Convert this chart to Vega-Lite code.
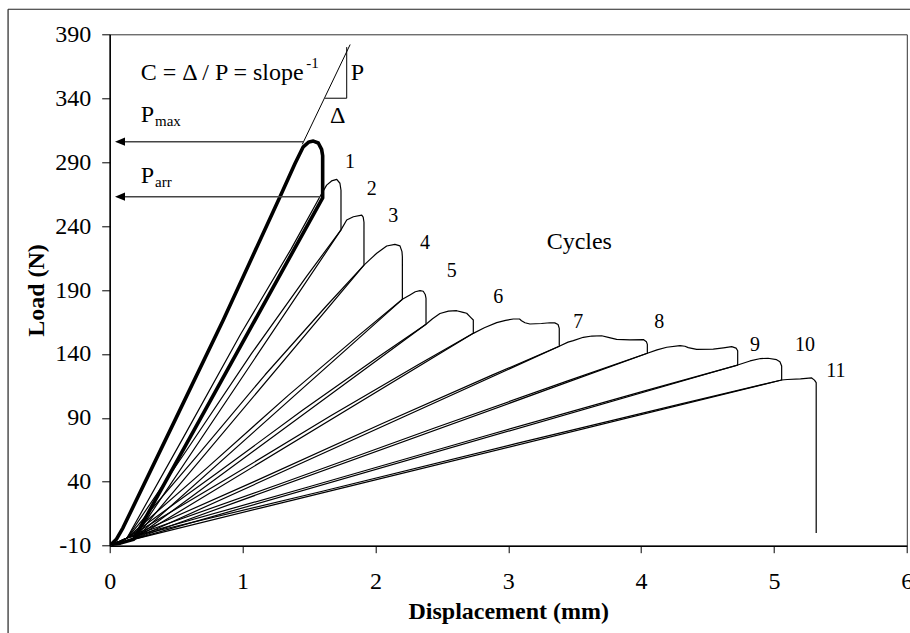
{
  "$schema": "https://vega.github.io/schema/vega-lite/v6.json",
  "width": 797.1,
  "height": 511.4,
  "autosize": {"type": "none"},
  "padding": {"left": 109.7, "top": 34.3, "right": 3.2, "bottom": 87.3},
  "background": "white",
  "config": {
    "view": {"stroke": "#333333", "strokeWidth": 1},
    "font": "Liberation Serif",
    "text": {"font": "Liberation Serif", "color": "black"}
  },
  "datasets": {
    "frame": [
      {"disp": -0.765, "load": 409.6, "disp2": -0.765, "load2": -79},
      {"disp": -0.765, "load": 409.6, "disp2": 6.03, "load2": 409.6}
    ],
    "bold": [
      {"disp": 0.01, "load": -9, "k": 0}, {"disp": 0.05, "load": -5, "k": 1}, {"disp": 0.1, "load": 4, "k": 2},
      {"disp": 0.5, "load": 90, "k": 3}, {"disp": 0.855, "load": 166.5, "k": 4}, {"disp": 1.282, "load": 263, "k": 5},
      {"disp": 1.395, "load": 289, "k": 6}, {"disp": 1.457, "load": 302, "k": 7}, {"disp": 1.5, "load": 305.8, "k": 8},
      {"disp": 1.533, "load": 306.5, "k": 9}, {"disp": 1.57, "load": 305, "k": 10}, {"disp": 1.595, "load": 300, "k": 11},
      {"disp": 1.603, "load": 295, "k": 12}, {"disp": 1.603, "load": 262, "k": 13}, {"disp": 0.18, "load": -5, "k": 14},
      {"disp": 0.08, "load": -8, "k": 15}, {"disp": 0.01, "load": -9, "k": 16}
    ],
    "cycles": [
      {"cycle": 1, "k": 0, "disp": 0.01, "load": -9}, {"cycle": 1, "k": 1, "disp": 0.07, "load": -7}, {"cycle": 1, "k": 2, "disp": 0.13, "load": -4},
      {"cycle": 1, "k": 3, "disp": 0.557, "load": 75.1}, {"cycle": 1, "k": 4, "disp": 0.984, "load": 155.2}, {"cycle": 1, "k": 5, "disp": 1.365, "load": 222},
      {"cycle": 1, "k": 6, "disp": 1.58, "load": 262.5}, {"cycle": 1, "k": 7, "disp": 1.633, "load": 272}, {"cycle": 1, "k": 8, "disp": 1.67, "load": 275.3},
      {"cycle": 1, "k": 9, "disp": 1.709, "load": 276.5}, {"cycle": 1, "k": 10, "disp": 1.733, "load": 273.5}, {"cycle": 1, "k": 11, "disp": 1.741, "load": 268},
      {"cycle": 1, "k": 12, "disp": 1.741, "load": 237}, {"cycle": 1, "k": 13, "disp": 0.18, "load": -5}, {"cycle": 1, "k": 14, "disp": 0.08, "load": -8},
      {"cycle": 1, "k": 15, "disp": 0.01, "load": -9},

      {"cycle": 2, "k": 0, "disp": 0.01, "load": -9}, {"cycle": 2, "k": 1, "disp": 0.07, "load": -7}, {"cycle": 2, "k": 2, "disp": 0.13, "load": -4},
      {"cycle": 2, "k": 3, "disp": 0.598, "load": 67.6}, {"cycle": 2, "k": 4, "disp": 1.067, "load": 140.2}, {"cycle": 2, "k": 5, "disp": 1.482, "load": 200.7},
      {"cycle": 2, "k": 6, "disp": 1.741, "load": 237}, {"cycle": 2, "k": 7, "disp": 1.784, "load": 244.7}, {"cycle": 2, "k": 8, "disp": 1.834, "load": 247.3},
      {"cycle": 2, "k": 9, "disp": 1.897, "load": 248.6}, {"cycle": 2, "k": 10, "disp": 1.908, "load": 247}, {"cycle": 2, "k": 11, "disp": 1.914, "load": 243},
      {"cycle": 2, "k": 12, "disp": 1.914, "load": 209.5}, {"cycle": 2, "k": 13, "disp": 0.18, "load": -5}, {"cycle": 2, "k": 14, "disp": 0.08, "load": -8},
      {"cycle": 2, "k": 15, "disp": 0.01, "load": -9},

      {"cycle": 3, "k": 0, "disp": 0.01, "load": -9}, {"cycle": 3, "k": 1, "disp": 0.07, "load": -7}, {"cycle": 3, "k": 2, "disp": 0.13, "load": -4},
      {"cycle": 3, "k": 3, "disp": 0.65, "load": 59.35}, {"cycle": 3, "k": 4, "disp": 1.17, "load": 123.7}, {"cycle": 3, "k": 5, "disp": 1.629, "load": 177.3},
      {"cycle": 3, "k": 6, "disp": 1.914, "load": 209.5}, {"cycle": 3, "k": 7, "disp": 1.96, "load": 214}, {"cycle": 3, "k": 8, "disp": 2.01, "load": 218.7},
      {"cycle": 3, "k": 9, "disp": 2.085, "load": 224.4}, {"cycle": 3, "k": 10, "disp": 2.147, "load": 225.7}, {"cycle": 3, "k": 11, "disp": 2.185, "load": 224.5},
      {"cycle": 3, "k": 12, "disp": 2.2, "load": 220}, {"cycle": 3, "k": 13, "disp": 2.203, "load": 216}, {"cycle": 3, "k": 14, "disp": 2.203, "load": 182.7},
      {"cycle": 3, "k": 15, "disp": 0.18, "load": -5}, {"cycle": 3, "k": 16, "disp": 0.08, "load": -8}, {"cycle": 3, "k": 17, "disp": 0.01, "load": -9},

      {"cycle": 4, "k": 0, "disp": 0.01, "load": -9}, {"cycle": 4, "k": 1, "disp": 0.07, "load": -7}, {"cycle": 4, "k": 2, "disp": 0.13, "load": -4},
      {"cycle": 4, "k": 3, "disp": 0.737, "load": 51.3}, {"cycle": 4, "k": 4, "disp": 1.344, "load": 107.6}, {"cycle": 4, "k": 5, "disp": 1.875, "load": 154.5},
      {"cycle": 4, "k": 6, "disp": 2.203, "load": 182.7}, {"cycle": 4, "k": 7, "disp": 2.26, "load": 186.1}, {"cycle": 4, "k": 8, "disp": 2.3, "load": 188.6},
      {"cycle": 4, "k": 9, "disp": 2.336, "load": 189.5}, {"cycle": 4, "k": 10, "disp": 2.36, "load": 189}, {"cycle": 4, "k": 11, "disp": 2.375, "load": 186.5},
      {"cycle": 4, "k": 12, "disp": 2.381, "load": 183.5}, {"cycle": 4, "k": 13, "disp": 2.381, "load": 163.2}, {"cycle": 4, "k": 14, "disp": 0.18, "load": -5},
      {"cycle": 4, "k": 15, "disp": 0.08, "load": -8}, {"cycle": 4, "k": 16, "disp": 0.01, "load": -9},

      {"cycle": 5, "k": 0, "disp": 0.01, "load": -9}, {"cycle": 5, "k": 1, "disp": 0.07, "load": -7}, {"cycle": 5, "k": 2, "disp": 0.13, "load": -4},
      {"cycle": 5, "k": 3, "disp": 0.79, "load": 45.5}, {"cycle": 5, "k": 4, "disp": 1.451, "load": 95.9}, {"cycle": 5, "k": 5, "disp": 2.026, "load": 138},
      {"cycle": 5, "k": 6, "disp": 2.381, "load": 163.2}, {"cycle": 5, "k": 7, "disp": 2.43, "load": 167.5}, {"cycle": 5, "k": 8, "disp": 2.486, "load": 171.6},
      {"cycle": 5, "k": 9, "disp": 2.55, "load": 173.5}, {"cycle": 5, "k": 10, "disp": 2.612, "load": 173.8}, {"cycle": 5, "k": 11, "disp": 2.66, "load": 172.5},
      {"cycle": 5, "k": 12, "disp": 2.687, "load": 171.8}, {"cycle": 5, "k": 13, "disp": 2.717, "load": 168.6}, {"cycle": 5, "k": 14, "disp": 2.737, "load": 166.5},
      {"cycle": 5, "k": 15, "disp": 2.737, "load": 156.1}, {"cycle": 5, "k": 16, "disp": 0.18, "load": -5}, {"cycle": 5, "k": 17, "disp": 0.08, "load": -8},
      {"cycle": 5, "k": 18, "disp": 0.01, "load": -9},

      {"cycle": 6, "k": 0, "disp": 0.01, "load": -9}, {"cycle": 6, "k": 1, "disp": 0.07, "load": -7}, {"cycle": 6, "k": 2, "disp": 0.13, "load": -4},
      {"cycle": 6, "k": 3, "disp": 0.897, "load": 43.3}, {"cycle": 6, "k": 4, "disp": 1.664, "load": 91.7}, {"cycle": 6, "k": 5, "disp": 2.328, "load": 131.9},
      {"cycle": 6, "k": 6, "disp": 2.737, "load": 156.1}, {"cycle": 6, "k": 7, "disp": 2.82, "load": 160.5}, {"cycle": 6, "k": 8, "disp": 2.913, "load": 164.5},
      {"cycle": 6, "k": 9, "disp": 2.98, "load": 166.3}, {"cycle": 6, "k": 10, "disp": 3.038, "load": 167.3}, {"cycle": 6, "k": 11, "disp": 3.085, "load": 167.3},
      {"cycle": 6, "k": 12, "disp": 3.1, "load": 166}, {"cycle": 6, "k": 13, "disp": 3.126, "load": 164.4}, {"cycle": 6, "k": 14, "disp": 3.163, "load": 163.4},
      {"cycle": 6, "k": 15, "disp": 3.25, "load": 163.8}, {"cycle": 6, "k": 16, "disp": 3.314, "load": 164.4}, {"cycle": 6, "k": 17, "disp": 3.35, "load": 164.3},
      {"cycle": 6, "k": 18, "disp": 3.375, "load": 163}, {"cycle": 6, "k": 19, "disp": 3.384, "load": 160}, {"cycle": 6, "k": 20, "disp": 3.384, "load": 146},
      {"cycle": 6, "k": 21, "disp": 0.18, "load": -5}, {"cycle": 6, "k": 22, "disp": 0.08, "load": -8}, {"cycle": 6, "k": 23, "disp": 0.01, "load": -9},

      {"cycle": 7, "k": 0, "disp": 0.01, "load": -9}, {"cycle": 7, "k": 1, "disp": 0.07, "load": -7}, {"cycle": 7, "k": 2, "disp": 0.13, "load": -4},
      {"cycle": 7, "k": 3, "disp": 1.091, "load": 40.3}, {"cycle": 7, "k": 4, "disp": 2.052, "load": 85.6}, {"cycle": 7, "k": 5, "disp": 2.878, "load": 123.4},
      {"cycle": 7, "k": 6, "disp": 3.384, "load": 146}, {"cycle": 7, "k": 7, "disp": 3.45, "load": 149.2}, {"cycle": 7, "k": 8, "disp": 3.49, "load": 150.4},
      {"cycle": 7, "k": 9, "disp": 3.565, "load": 153}, {"cycle": 7, "k": 10, "disp": 3.63, "load": 154}, {"cycle": 7, "k": 11, "disp": 3.703, "load": 154.2},
      {"cycle": 7, "k": 12, "disp": 3.753, "load": 153}, {"cycle": 7, "k": 13, "disp": 3.816, "load": 151.4}, {"cycle": 7, "k": 14, "disp": 3.916, "load": 151},
      {"cycle": 7, "k": 15, "disp": 4.017, "load": 151.2}, {"cycle": 7, "k": 16, "disp": 4.04, "load": 149.5}, {"cycle": 7, "k": 17, "disp": 4.047, "load": 147.5},
      {"cycle": 7, "k": 18, "disp": 4.047, "load": 140.5}, {"cycle": 7, "k": 19, "disp": 0.18, "load": -5}, {"cycle": 7, "k": 20, "disp": 0.08, "load": -8},
      {"cycle": 7, "k": 21, "disp": 0.01, "load": -9},

      {"cycle": 8, "k": 0, "disp": 0.01, "load": -9}, {"cycle": 8, "k": 1, "disp": 0.07, "load": -7}, {"cycle": 8, "k": 2, "disp": 0.13, "load": -4},
      {"cycle": 8, "k": 3, "disp": 1.29, "load": 38.65}, {"cycle": 8, "k": 4, "disp": 2.45, "load": 82.3}, {"cycle": 8, "k": 5, "disp": 3.442, "load": 118.7},
      {"cycle": 8, "k": 6, "disp": 4.047, "load": 140.5}, {"cycle": 8, "k": 7, "disp": 4.12, "load": 143.2}, {"cycle": 8, "k": 8, "disp": 4.193, "load": 145.2},
      {"cycle": 8, "k": 9, "disp": 4.293, "load": 146.5}, {"cycle": 8, "k": 10, "disp": 4.33, "load": 146}, {"cycle": 8, "k": 11, "disp": 4.355, "load": 144.9},
      {"cycle": 8, "k": 12, "disp": 4.418, "load": 143.6}, {"cycle": 8, "k": 13, "disp": 4.543, "load": 143.8}, {"cycle": 8, "k": 14, "disp": 4.62, "load": 144.8},
      {"cycle": 8, "k": 15, "disp": 4.682, "load": 145.7}, {"cycle": 8, "k": 16, "disp": 4.715, "load": 144.5}, {"cycle": 8, "k": 17, "disp": 4.727, "load": 142.5},
      {"cycle": 8, "k": 18, "disp": 4.727, "load": 131.3}, {"cycle": 8, "k": 19, "disp": 0.18, "load": -5}, {"cycle": 8, "k": 20, "disp": 0.08, "load": -8},
      {"cycle": 8, "k": 21, "disp": 0.01, "load": -9},

      {"cycle": 9, "k": 0, "disp": 0.01, "load": -9}, {"cycle": 9, "k": 1, "disp": 0.07, "load": -7}, {"cycle": 9, "k": 2, "disp": 0.13, "load": -4},
      {"cycle": 9, "k": 3, "disp": 1.494, "load": 35.9}, {"cycle": 9, "k": 4, "disp": 2.858, "load": 76.8}, {"cycle": 9, "k": 5, "disp": 4.02, "load": 110.9},
      {"cycle": 9, "k": 6, "disp": 4.727, "load": 131.3}, {"cycle": 9, "k": 7, "disp": 4.82, "load": 134.5}, {"cycle": 9, "k": 8, "disp": 4.9, "load": 136.4},
      {"cycle": 9, "k": 9, "disp": 4.955, "load": 136.6}, {"cycle": 9, "k": 10, "disp": 5.02, "load": 135.5}, {"cycle": 9, "k": 11, "disp": 5.045, "load": 133.9},
      {"cycle": 9, "k": 12, "disp": 5.058, "load": 130.5}, {"cycle": 9, "k": 13, "disp": 5.058, "load": 119.6}, {"cycle": 9, "k": 14, "disp": 0.18, "load": -5},
      {"cycle": 9, "k": 15, "disp": 0.08, "load": -8}, {"cycle": 9, "k": 16, "disp": 0.01, "load": -9},

      {"cycle": 10, "k": 0, "disp": 0.01, "load": -9}, {"cycle": 10, "k": 1, "disp": 0.07, "load": -7}, {"cycle": 10, "k": 2, "disp": 0.13, "load": -4},
      {"cycle": 10, "k": 3, "disp": 1.593, "load": 32.4}, {"cycle": 10, "k": 4, "disp": 3.057, "load": 69.8}, {"cycle": 10, "k": 5, "disp": 4.301, "load": 100.9},
      {"cycle": 10, "k": 6, "disp": 5.058, "load": 119.6}, {"cycle": 10, "k": 7, "disp": 5.1, "load": 120}, {"cycle": 10, "k": 8, "disp": 5.2, "load": 120.5},
      {"cycle": 10, "k": 9, "disp": 5.284, "load": 121.2}, {"cycle": 10, "k": 10, "disp": 5.305, "load": 119.5}, {"cycle": 10, "k": 11, "disp": 5.318, "load": 117.5},
      {"cycle": 10, "k": 12, "disp": 5.318, "load": 112}, {"cycle": 10, "k": 13, "disp": 5.318, "load": 0}
    ],
    "guides": [
      {"disp": 1.45, "load": 304, "disp2": 1.81, "load2": 382},
      {"disp": 1.621, "load": 340, "disp2": 1.784, "load2": 340},
      {"disp": 1.784, "load": 340, "disp2": 1.784, "load2": 380}
    ],
    "arrows": [
      {"name": "Pmax", "disp": 0.0775, "load": 306, "disp2": 1.457, "load2": 306},
      {"name": "Parr", "disp": 0.0775, "load": 263, "disp2": 1.583, "load2": 263}
    ],
    "numbers": [
      {"text": "1", "disp": 1.809, "load": 285.2}, {"text": "2", "disp": 1.972, "load": 264.3},
      {"text": "3", "disp": 2.135, "load": 243.4}, {"text": "4", "disp": 2.373, "load": 221.8},
      {"text": "5", "disp": 2.574, "load": 200.4}, {"text": "6", "disp": 2.925, "load": 179.6},
      {"text": "7", "disp": 3.527, "load": 160}, {"text": "8", "disp": 4.137, "load": 160},
      {"text": "9", "disp": 4.857, "load": 142.3}, {"text": "10", "disp": 5.234, "load": 142.3},
      {"text": "11", "disp": 5.467, "load": 122.2}
    ],
    "notes": [
      {"text": "C = Δ / P = slope", "disp": 0.233, "load": 354.2},
      {"text": "P", "disp": 1.814, "load": 354.2},
      {"text": "Δ", "disp": 1.658, "load": 320.4},
      {"text": "P", "disp": 0.233, "load": 321.6},
      {"text": "P", "disp": 0.233, "load": 274},
      {"text": "Cycles", "disp": 3.289, "load": 221.8}
    ],
    "subs": [
      {"text": "-1", "disp": 1.48, "load": 363.4},
      {"text": "max", "disp": 0.341, "load": 318.3},
      {"text": "arr", "disp": 0.341, "load": 270.3}
    ]
  },
  "encoding": {
    "x": {
      "field": "disp", "type": "quantitative",
      "scale": {"domain": [0, 6], "nice": false, "zero": false},
      "axis": {
        "title": "Displacement (mm)", "values": [0, 1, 2, 3, 4, 5, 6], "grid": false,
        "domainColor": "black", "domainWidth": 1.5, "tickColor": "black", "tickWidth": 1, "tickSize": 7,
        "labelFont": "Liberation Serif", "labelFontSize": 24, "labelColor": "black", "labelPadding": 17,
        "labelFlush": false, "labelOverlap": false, "labelBound": false,
        "titleFont": "Liberation Serif", "titleFontSize": 24, "titleFontWeight": "bold", "titleColor": "black", "titlePadding": 6
      }
    },
    "y": {
      "field": "load", "type": "quantitative",
      "scale": {"domain": [-10, 390], "nice": false, "zero": false},
      "axis": {
        "title": "Load (N)", "values": [-10, 40, 90, 140, 190, 240, 290, 340, 390], "grid": false,
        "labelExpr": "datum.value < 0 ? '-' + toString(-datum.value) : toString(datum.value)",
        "domainColor": "black", "domainWidth": 1.5, "tickColor": "black", "tickWidth": 1, "tickSize": 8,
        "labelFont": "Liberation Serif", "labelFontSize": 24, "labelColor": "black", "labelPadding": 11,
        "labelFlush": false, "labelOverlap": false, "labelBound": false,
        "titleFont": "Liberation Serif", "titleFontSize": 24, "titleFontWeight": "bold", "titleColor": "black", "titlePadding": 6
      }
    }
  },
  "layer": [
    {
      "data": {"name": "frame"},
      "mark": {"type": "rule", "stroke": "#222222", "strokeWidth": 1.2, "clip": false},
      "encoding": {"x2": {"field": "disp2"}, "y2": {"field": "load2"}}
    },
    {
      "data": {"name": "cycles"},
      "mark": {"type": "line", "stroke": "black", "strokeWidth": 1.2, "strokeJoin": "round"},
      "encoding": {"detail": {"field": "cycle"}, "order": {"field": "k"}}
    },
    {
      "data": {"name": "bold"},
      "mark": {"type": "line", "stroke": "black", "strokeWidth": 3.6, "strokeJoin": "round"},
      "encoding": {"order": {"field": "k"}}
    },
    {
      "data": {"name": "guides"},
      "mark": {"type": "rule", "stroke": "black", "strokeWidth": 1},
      "encoding": {"x2": {"field": "disp2"}, "y2": {"field": "load2"}}
    },
    {
      "data": {"name": "arrows"},
      "mark": {"type": "rule", "stroke": "#444444", "strokeWidth": 1.5},
      "encoding": {"x2": {"field": "disp2"}, "y2": {"field": "load2"}}
    },
    {
      "data": {"name": "arrows"},
      "mark": {"type": "point", "shape": "M-1,0L1,-0.83L1,0.83Z", "filled": true, "fill": "black", "stroke": null, "size": 100, "opacity": 1},
      "encoding": {}
    },
    {
      "data": {"name": "numbers"},
      "mark": {"type": "text", "fontSize": 20, "align": "center", "baseline": "alphabetic", "font": "Liberation Serif", "color": "black"},
      "encoding": {"text": {"field": "text"}}
    },
    {
      "data": {"name": "notes"},
      "mark": {"type": "text", "fontSize": 24, "align": "left", "baseline": "alphabetic", "font": "Liberation Serif", "color": "black"},
      "encoding": {"text": {"field": "text"}}
    },
    {
      "data": {"name": "subs"},
      "mark": {"type": "text", "fontSize": 15, "align": "left", "baseline": "alphabetic", "font": "Liberation Serif", "color": "black"},
      "encoding": {"text": {"field": "text"}}
    }
  ]
}
